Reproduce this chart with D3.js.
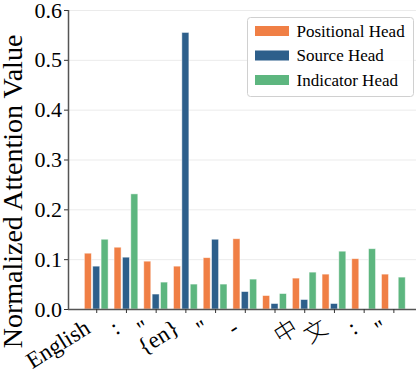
<!DOCTYPE html>
<html>
<head>
<meta charset="utf-8">
<script src="https://cdn.jsdelivr.net/npm/d3@7"></script>
<style>
  body { margin: 0; background: #fff; }
  svg text { font-family: "Liberation Serif", "DejaVu Serif", serif; fill: #000; }
</style>
</head>
<body>
<div id="chart"></div>
<script>
// tokens on the x axis (7th one is a blank token)
var tokens = ["English", ":", "\"", "{en}", "\"", "-", " ", "中", "文", ":", "\""];
var seriesNames = ["Positional Head", "Source Head", "Indicator Head"];
var seriesColors = ["#f07f45", "#2d5f8b", "#5db67f"];
var positional = [0.112, 0.124, 0.096, 0.086, 0.103, 0.141, 0.027, 0.062, 0.070, 0.101, 0.070];
var source     = [0.086, 0.104, 0.030, 0.555, 0.140, 0.035, 0.011, 0.019, 0.011, 0.000, 0.000];
var indicator  = [0.140, 0.231, 0.054, 0.050, 0.050, 0.060, 0.031, 0.074, 0.116, 0.121, 0.064];
var yTicks = [0, 0.1, 0.2, 0.3, 0.4, 0.5, 0.6];

var W = 416, H = 374;
var pLeft = 68, pBottom = 309, pTop = 10, pRight = 421.6;

var svg = d3.select("#chart").append("svg")
  .attr("width", W)
  .attr("height", H);

var x = d3.scaleLinear().domain([-0.95, tokens.length - 1 + 0.95]).range([pLeft, pRight]);
var y = d3.scaleLinear().domain([0, 0.6]).range([pBottom, pTop]);
var half = x(0.4) - x(0);
var inner = d3.scaleBand().domain(seriesNames).range([-half, half]).paddingInner(0.16);

// grid
svg.append("g").selectAll("line").data(yTicks.slice(1)).enter().append("line")
  .attr("x1", pLeft).attr("x2", W)
  .attr("y1", d => y(d) + 0.5).attr("y2", d => y(d) + 0.5)
  .attr("stroke", "#ebebeb").attr("stroke-width", 1);

// bars
var data = [positional, source, indicator];
var rows = [];
tokens.forEach(function (t, i) {
  seriesNames.forEach(function (s, k) {
    rows.push({ i: i, k: k, s: s, v: data[k][i] });
  });
});
svg.append("g").selectAll("rect").data(rows).enter().append("rect")
  .attr("x", d => x(d.i) + inner(d.s))
  .attr("y", d => y(d.v))
  .attr("width", inner.bandwidth())
  .attr("height", d => y(0) - y(d.v))
  .attr("fill", d => seriesColors[d.k])
  .attr("stroke", "#fff").attr("stroke-opacity", 0.6).attr("stroke-width", 0.8);

// y axis
var yAxis = svg.append("g")
  .attr("transform", "translate(" + pLeft + ",0)")
  .call(d3.axisLeft(y).tickValues(yTicks).tickFormat(d3.format(".1f")).tickSize(4).tickPadding(2));
yAxis.selectAll("text").attr("font-size", 22).style("font-family", "Liberation Serif");
yAxis.select(".domain").attr("stroke", "#555").attr("stroke-width", 1.5).attr("d", "M0.5," + pTop + "V" + pBottom);
yAxis.selectAll(".tick line").attr("stroke", "#333");

// x axis
var xAxis = svg.append("g")
  .attr("transform", "translate(0," + pBottom + ")")
  .call(d3.axisBottom(x).tickValues(d3.range(tokens.length)).tickFormat(i => tokens[i]).tickSize(4));
xAxis.select(".domain").attr("stroke", "#555").attr("stroke-width", 1.5).attr("d", "M" + pLeft + ",0.5H" + pRight);
xAxis.selectAll(".tick line").attr("stroke", "#333");
xAxis.selectAll("text")
  .attr("font-size", 23)
  .style("font-family", "Liberation Serif, Noto Sans CJK SC")
  .style("font-weight", 300)
  .attr("text-anchor", "end")
  .attr("y", 0)
  .attr("dy", 0)
  .attr("transform", "translate(-5,23) rotate(-32)");

// y label
svg.append("text")
  .attr("transform", "translate(22," + ((pTop + pBottom) / 2 + 32) + ") rotate(-90)")
  .attr("text-anchor", "middle")
  .attr("font-size", 28)
  .text("Normalized Attention Value");

// legend
var lg = svg.append("g").attr("transform", "translate(247.5,17.5)");
lg.append("rect").attr("width", 166).attr("height", 79).attr("rx", 3)
  .attr("fill", "#fff").attr("fill-opacity", 0.85)
  .attr("stroke", "#d0d0d0").attr("stroke-width", 1);
seriesNames.forEach(function (s, k) {
  var row = lg.append("g").attr("transform", "translate(0," + (13.5 + k * 24.5) + ")");
  row.append("rect").attr("x", 7.5).attr("y", -5).attr("width", 34).attr("height", 10).attr("fill", seriesColors[k]);
  row.append("text").attr("x", 49).attr("dy", "0.35em").attr("font-size", 17).text(s);
});
</script>
</body>
</html>
